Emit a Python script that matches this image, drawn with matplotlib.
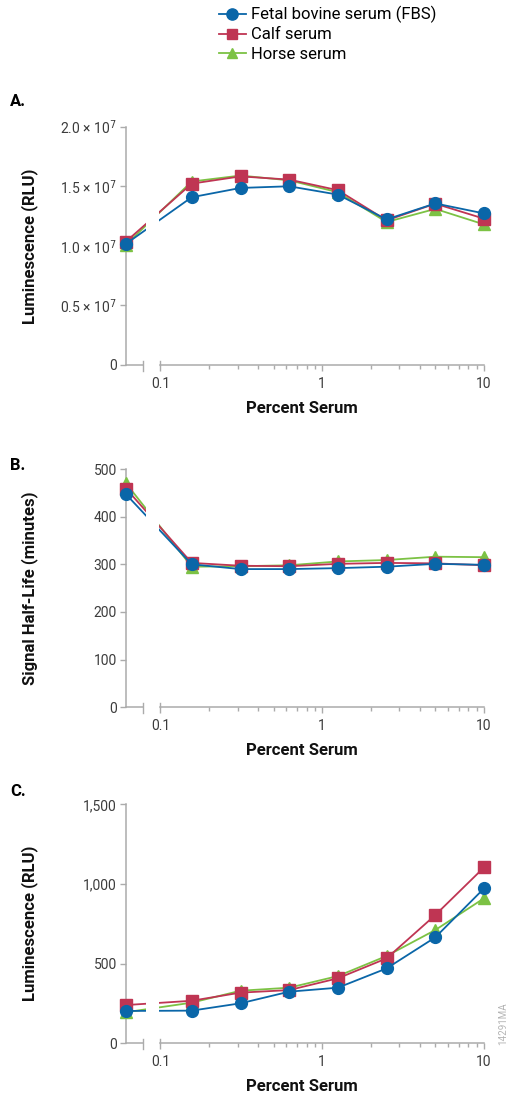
import numpy as np
import matplotlib
matplotlib.use("Agg")
import matplotlib.pyplot as plt
from matplotlib import transforms

# x values: percent serum (0 is drawn left of the axis break)
serum = [0, 0.156, 0.3125, 0.625, 1.25, 2.5, 5, 10]
names = ["Fetal bovine serum (FBS)", "Calf serum", "Horse serum"]

# A. luminescence (RLU)
lum_fbs = [1.017e7, 1.408e7, 1.486e7, 1.50e7, 1.43e7, 1.222e7, 1.356e7, 1.272e7]
lum_calf = [1.036e7, 1.522e7, 1.583e7, 1.556e7, 1.467e7, 1.214e7, 1.354e7, 1.228e7]
lum_horse = [1.01e7, 1.54e7, 1.59e7, 1.55e7, 1.45e7, 1.20e7, 1.31e7, 1.18e7]

# B. signal half-life (minutes)
half_fbs = [447, 300, 290, 290, 292, 295, 301, 299]
half_calf = [459, 303, 297, 296, 301, 303, 302, 298]
half_horse = [470, 295, 296, 298, 306, 309, 316, 315]

# C. background luminescence (RLU)
bg_fbs = [203, 205, 251, 324, 349, 470, 665, 972]
bg_calf = [240, 267, 318, 334, 408, 533, 805, 1104]
bg_horse = [195, 255, 330, 349, 422, 548, 711, 910]

xticks = [0.1, 1, 10]
xticklabels = ["0.1", "1", "10"]
minor = [0.2, 0.3, 0.4, 0.5, 0.6, 0.7, 0.8, 0.9, 2, 3, 4, 5, 6, 7, 8, 9]

ticksA = [0, 0.5e7, 1.0e7, 1.5e7, 2.0e7]
labelsA = ["0", "0.5 \u00d7 10$^7$", "1.0 \u00d7 10$^7$", "1.5 \u00d7 10$^7$", "2.0 \u00d7 10$^7$"]
ticksB = [0, 100, 200, 300, 400, 500]
labelsB = ["0", "100", "200", "300", "400", "500"]
ticksC = [0, 500, 1000, 1500]
labelsC = ["0", "500", "1,000", "1,500"]

plt.rcParams['font.family'] = ['Liberation Sans Narrow', 'Roboto', 'DejaVu Sans']
plt.rcParams['mathtext.fontset'] = 'custom'
plt.rcParams['mathtext.rm'] = 'Liberation Sans Narrow'

BLUE = "#0a66a8"
RED = "#bf3553"
GREEN = "#7cc244"
GRAY = "#ababab"
TXT = "#3c3c3c"

GAP = 0.213  # decades between x=0 and 0.1


def fwd(x):
    x = np.asarray(x, float)
    lin = -1 - GAP * (1 - x / 0.1)
    return np.where(x >= 0.1, np.log10(np.maximum(x, 0.1)), lin)


def inv(y):
    y = np.asarray(y, float)
    return np.where(y >= -1, 10 ** np.minimum(y, 10), 0.1 * (1 - (-1 - y) / GAP))


fig = plt.figure(figsize=(5.07, 10.95), dpi=100)
W, H = 507.0, 1095.0


def make_ax(top, bottom):
    return fig.add_axes([126 / W, 1 - bottom / H, 358 / W, (bottom - top) / H])


def style(ax, ymax, yt, yl, ylabel):
    ax.set_xscale('function', functions=(fwd, inv))
    ax.set_xlim(0, 10)
    ax.set_ylim(0, ymax)
    ax.set_xticks(xticks, xticklabels)
    ax.set_xticks(minor, minor=True)
    ax.set_yticks(yt, yl)
    for s in ['top', 'right']:
        ax.spines[s].set_visible(False)
    for s in ['left', 'bottom']:
        ax.spines[s].set_color(GRAY)
        ax.spines[s].set_linewidth(1.1)
    ax.spines['bottom'].set_bounds(0.1, 10)
    ax.tick_params(which='major', length=4.5, width=1.0, color=GRAY,
                   labelcolor=TXT, labelsize=10)
    ax.tick_params(which='minor', length=3, width=1.0, color=GRAY)
    ax.tick_params(axis='y', pad=2)
    ax.tick_params(axis='x', pad=4)
    ax.set_ylabel(ylabel, fontsize=12, fontweight='bold', color='#111111')
    ax.yaxis.set_label_coords(-0.245, 0.5)
    ax.set_xlabel("Percent Serum", fontsize=12, fontweight='bold', color='#111111')
    ax.xaxis.set_label_coords(0.49, -0.15)
    # broken axis
    blend = transforms.blended_transform_factory(ax.transData, ax.transAxes)
    ax.plot([0, 0.05], [0, 0], transform=blend, color=GRAY, lw=1.1, clip_on=False)
    ax.plot([0.05, 0.05], [-0.025, 0.018], transform=blend, color=GRAY, lw=1.0, clip_on=False)
    ax.plot([0.1, 0.1], [0, 0.018], transform=blend, color=GRAY, lw=1.0, clip_on=False)
    ax.axvspan(0.057, 0.0944, color='white', zorder=4, lw=0)


def draw(ax, fbs, calf, horse):
    lh, = ax.plot(serum, horse, color=GREEN, marker='^', ms=8, lw=1.3, clip_on=False, zorder=3)
    lc, = ax.plot(serum, calf, color=RED, marker='s', ms=8, lw=1.3, clip_on=False, zorder=3)
    lf, = ax.plot(serum, fbs, color=BLUE, marker='o', ms=8.5, lw=1.3, clip_on=False, zorder=3)
    return [lf, lc, lh]


axA = make_ax(126.7, 365)
handles = draw(axA, lum_fbs, lum_calf, lum_horse)
style(axA, 2.0e7, ticksA, labelsA, "Luminescence (RLU)")

axB = make_ax(469, 707.3)
draw(axB, half_fbs, half_calf, half_horse)
style(axB, 500, ticksB, labelsB, "Signal Half-Life (minutes)")

axC = make_ax(804.3, 1043.3)
draw(axC, bg_fbs, bg_calf, bg_horse)
style(axC, 1500, ticksC, labelsC, "Luminescence (RLU)")

for lab, y in [("A.", 101), ("B.", 466), ("C.", 791)]:
    fig.text(10 / W, 1 - y / H, lab, fontsize=12, fontweight='bold', va='center', ha='left')

fig.text(503 / W, 1 - 1024 / H, "14291MA", rotation=90, fontsize=7, color='#b5b5b5',
         ha='center', va='center')

fig.legend(handles, names, loc='upper left', bbox_to_anchor=(219 / W, 1 - 6 / H),
           frameon=False, fontsize=12, handlelength=1.6, handletextpad=0.3,
           labelspacing=0.25, borderpad=0, borderaxespad=0, numpoints=1,
           markerscale=0.95)

fig.savefig("out.png", dpi=100)
